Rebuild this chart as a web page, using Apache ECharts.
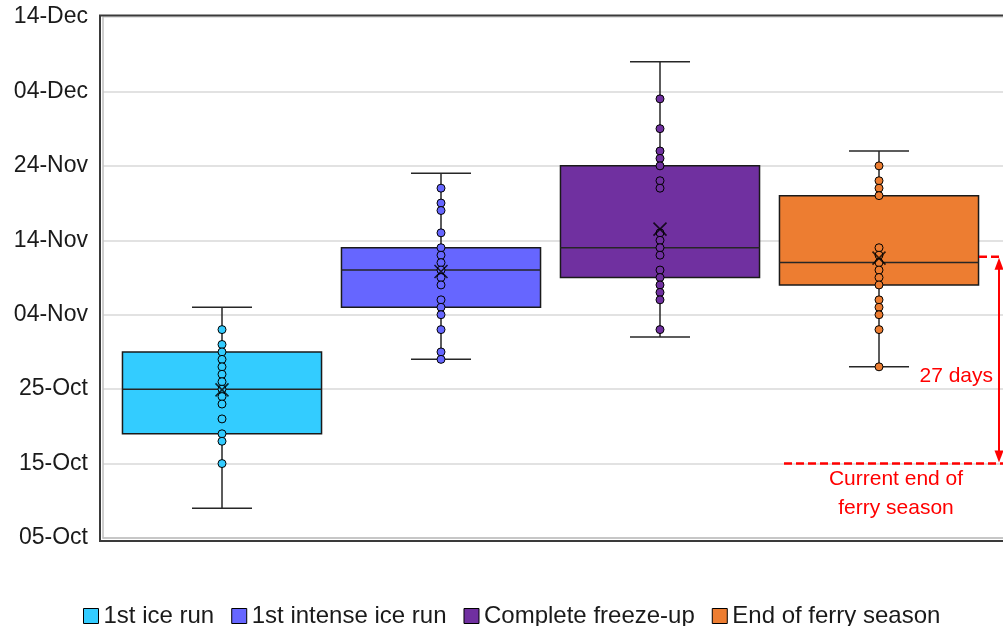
<!DOCTYPE html>
<html>
<head>
<meta charset="utf-8">
<script src="https://cdn.jsdelivr.net/npm/echarts@6/dist/echarts.min.js"></script>
<style>html,body{margin:0;padding:0;background:#fff}#c{width:1003px;height:626px}</style>
</head>
<body>
<div id="c"></div>
<script>
// Days counted from 05-Oct
const categories = ['1st ice run', '1st intense ice run', 'Complete freeze-up', 'End of ferry season'];
const colors = ['#33CCFF', '#6666FF', '#7030A0', '#ED7D31'];
const tickLabels = ['05-Oct', '15-Oct', '25-Oct', '04-Nov', '14-Nov', '24-Nov', '04-Dec', '14-Dec'];
// [min, Q1, median, Q3, max]
const boxIceRun = [4, 14, 20, 25, 31];
const boxIntenseRun = [24, 31, 36, 39, 49];
const boxFreezeUp = [27, 35, 39, 50, 64];
const boxFerryEnd = [23, 34, 37, 46, 52];
const meanValues = [19.9, 35.8, 41.5, 37.6];
const ptsIceRun = [28, 26, 25, 24, 23, 22, 21, 20, 19, 18, 16, 14, 13, 10];
const ptsIntenseRun = [47, 45, 44, 41, 39, 38, 37, 36, 35, 34, 32, 31, 30, 28, 25, 24];
const ptsFreezeUp = [59, 55, 52, 51, 50, 48, 47, 41, 40, 39, 38, 36, 35, 34, 33, 32, 28];
const ptsFerryEnd = [50, 48, 47, 46, 39, 38, 37, 36, 35, 34, 32, 31, 30, 28, 23];
const currentFerryEnd = 10;
const projectedFerryEnd = 37.8;
const gapLabel = '27 days';
const currentEndLabel = 'Current end of\nferry season';

const boxes = [boxIceRun, boxIntenseRun, boxFreezeUp, boxFerryEnd];
const points = [ptsIceRun, ptsIntenseRun, ptsFreezeUp, ptsFerryEnd];

function renderBox(params, api) {
  const idx = api.value(0);
  const pMin = api.coord([idx, api.value(1)]);
  const pQ1 = api.coord([idx, api.value(2)]);
  const pMed = api.coord([idx, api.value(3)]);
  const pQ3 = api.coord([idx, api.value(4)]);
  const pMax = api.coord([idx, api.value(5)]);
  const unit = api.size([1, 0])[0];
  const bw = unit * 0.909, cw = unit * 0.274;
  const cx = pMin[0];
  const ls = { stroke: '#262626', lineWidth: 1.5 };
  return {
    type: 'group',
    children: [
      { type: 'line', shape: { x1: cx, y1: pMin[1], x2: cx, y2: pMax[1] }, style: ls },
      { type: 'line', shape: { x1: cx - cw / 2, y1: pMin[1], x2: cx + cw / 2, y2: pMin[1] }, style: ls },
      { type: 'line', shape: { x1: cx - cw / 2, y1: pMax[1], x2: cx + cw / 2, y2: pMax[1] }, style: ls },
      { type: 'rect', shape: { x: cx - bw / 2, y: pQ3[1], width: bw, height: pQ1[1] - pQ3[1] },
        style: { fill: api.visual('color'), stroke: '#1a1a1a', lineWidth: 1.5 } },
      { type: 'line', shape: { x1: cx - bw / 2, y1: pMed[1], x2: cx + bw / 2, y2: pMed[1] }, style: ls }
    ]
  };
}

function renderAnnotation(params, api) {
  const idx = api.value(0);
  const pLow = api.coord([idx, api.value(1)]);
  const pHigh = api.coord([idx, api.value(2)]);
  const cx = pLow[0];
  const ax = cx + 120;
  const red = '#FF0000';
  const dash = { stroke: red, lineWidth: 2.5, lineDash: [8, 4] };
  const font = '21px "Liberation Sans", Arial, sans-serif';
  return {
    type: 'group',
    children: [
      { type: 'line', shape: { x1: cx + 100, y1: pHigh[1], x2: cx + 124, y2: pHigh[1] }, style: dash },
      { type: 'line', shape: { x1: cx - 95, y1: pLow[1], x2: cx + 124, y2: pLow[1] }, style: dash },
      { type: 'line', shape: { x1: ax, y1: pHigh[1] + 10, x2: ax, y2: pLow[1] - 10 }, style: { stroke: red, lineWidth: 2 } },
      { type: 'polygon', shape: { points: [[ax, pHigh[1] + 1], [ax - 4.5, pHigh[1] + 13], [ax + 4.5, pHigh[1] + 13]] }, style: { fill: red } },
      { type: 'polygon', shape: { points: [[ax, pLow[1] - 1], [ax - 4.5, pLow[1] - 13], [ax + 4.5, pLow[1] - 13]] }, style: { fill: red } },
      { type: 'text', x: cx + 114, y: pLow[1] - 87,
        style: { text: gapLabel, fill: red, font: font, align: 'right', verticalAlign: 'middle' } },
      { type: 'text', x: cx + 17, y: pLow[1] + 1,
        style: { text: currentEndLabel, fill: red, font: font, align: 'center', verticalAlign: 'top', lineHeight: 29 } }
    ]
  };
}

const series = [];
categories.forEach((name, i) => {
  series.push({
    name: name, type: 'custom', renderItem: renderBox,
    itemStyle: { color: colors[i] },
    encode: { x: 0, y: [1, 2, 3, 4, 5] },
    data: [[i].concat(boxes[i])], z: 2
  });
});
categories.forEach((name, i) => {
  series.push({
    name: name, type: 'scatter', symbol: 'circle', symbolSize: 8,
    itemStyle: { color: colors[i], borderColor: '#000', borderWidth: 1, opacity: 1 },
    data: points[i].map(v => [i, v]), z: 3
  });
});
series.push({
  name: 'Mean', type: 'scatter', symbol: 'path://M0,0L10,10M10,0L0,10', symbolSize: 13,
  itemStyle: { color: 'rgba(0,0,0,0)', borderColor: '#000', borderWidth: 1.6 },
  data: meanValues.map((v, i) => [i, v]), z: 4
});
series.push({
  name: 'annotation', type: 'custom', renderItem: renderAnnotation, clip: false,
  encode: { x: 0, y: [1, 2] },
  data: [[3, currentFerryEnd, projectedFerryEnd]], z: 5
});

const chart = echarts.init(document.getElementById('c'), null, { renderer: 'canvas' });
chart.setOption({
  animation: false,
  backgroundColor: '#fff',
  grid: { left: 103, right: 0, top: 17, bottom: 88, containLabel: false },
  graphic: [{
    type: 'rect', silent: true, z: 10,
    shape: { x: 100, y: 15.5, width: 1010, height: 525.5 },
    style: { fill: 'none', stroke: '#3a3a3a', lineWidth: 2 }
  }],
  xAxis: {
    type: 'value', min: -0.5434, max: 3.5662,
    axisLine: { show: true, onZero: false, lineStyle: { color: '#bfbfbf', width: 1.5 } },
    axisTick: { show: false }, axisLabel: { show: false }, splitLine: { show: false }
  },
  yAxis: {
    type: 'value', min: 0, max: 70, interval: 10,
    axisLine: { show: true, onZero: false, lineStyle: { color: '#bfbfbf', width: 1.5 } },
    axisTick: { show: false },
    axisLabel: {
      margin: 15, fontSize: 23, color: '#1a1a1a', fontFamily: '"Liberation Sans", Arial, sans-serif',
      formatter: v => tickLabels[Math.round(v / 10)]
    },
    splitLine: { show: true, lineStyle: { color: '#d9d9d9', width: 1.5 } }
  },
  legend: {
    data: categories, left: 78, top: 599, icon: 'rect', itemWidth: 15, itemHeight: 15,
    itemGap: 17, itemTextGap: 8,
    itemStyle: { borderColor: '#000', borderWidth: 1 },
    textStyle: { fontSize: 24, color: '#1a1a1a', fontFamily: '"Liberation Sans", Arial, sans-serif' }
  },
  series: series
});
</script>
</body>
</html>
